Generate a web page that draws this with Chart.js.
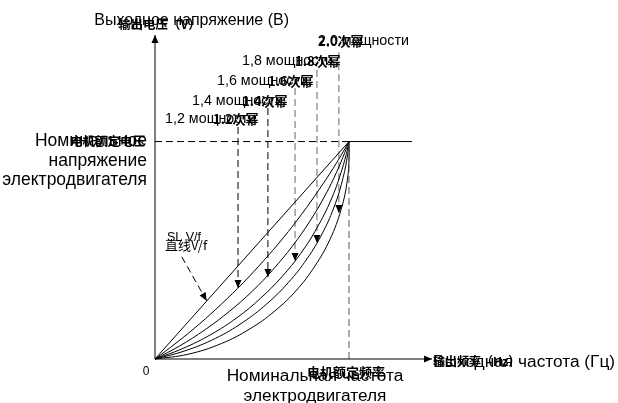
<!DOCTYPE html>
<html><head><meta charset="utf-8">
<script src="https://cdn.jsdelivr.net/npm/chart.js@4/dist/chart.umd.min.js"></script>
<style>html,body{margin:0;padding:0;background:#fff;overflow:hidden}canvas{display:block}</style>
</head><body>
<canvas id="c" width="618" height="403"></canvas>
<script>
// ---- data (x: % of rated frequency, y: % of rated voltage) ----
const curveLinear = [[0,0],[100,100]];
const curve12 = [[0,0],[10.8,7.3],[22.9,16.1],[34.4,25.4],[45.5,35.1],[56.0,45.2],[66.1,55.7],[75.6,66.6],[84.6,77.9],[91.8,87.6],[97.2,95.6],[100,100]];
const curve14 = [[0,0],[12.5,5.9],[26.0,13.6],[38.6,22.1],[50.3,31.3],[61.0,41.3],[70.8,51.9],[79.8,63.3],[87.8,75.4],[93.7,86.1],[97.9,95.1],[100,100]];
const curve16 = [[0,0],[14.0,4.7],[28.9,11.3],[42.4,19.1],[54.5,28.0],[65.4,37.8],[75.1,48.5],[83.5,60.3],[90.7,73.1],[95.5,84.6],[98.7,94.5],[100,100]];
const curve18 = [[0,0],[15.3,3.7],[31.2,9.5],[45.2,16.8],[57.7,25.4],[68.7,35.1],[78.3,46.0],[86.4,58.0],[92.9,71.3],[97.0,83.5],[99.3,94.0],[100,100]];
const curve20 = [[0,0],[17.1,2.2],[34.2,7.1],[49.0,13.9],[61.8,22.1],[73.0,31.7],[82.4,42.7],[90.2,55.0],[96.0,68.9],[99.1,81.8],[100.1,93.3],[100,100]];
const ratedFreq = 100;
const ratedVolt = 100;
const constantVoltEnd = 132.5;
const xAxisMax = 142.8;
const yAxisMax = 149;
const powerArrowX = [42.8, 58.2, 72.2, 83.5, 94.8];
const powerArrowFromY = [106.7, 115.4, 124.6, 132.9, 141.1];
const powerArrowToY = [32.6, 37.7, 45.1, 53.3, 67.1];
const slArrowFrom = [13.8, 47.0];
const slArrowTo = [26.6, 26.8];

// ---- text ----
const powerLabelsRu = ['1,2 мощности','1,4 мощности','1,6 мощности','1,8 мощности','2,0 мощности'];
const powerLabelsZh = ['1.2次幂','1.4次幂','1.6次幂','1.8次幂','2.0次幂'];
const yTitleRu = 'Выходное напряжение (В)';
const yTitleZh = '输出电压（V）';
const xTitleRu = 'Выходная частота (Гц)';
const xTitleZh = '输出频率（Hz）';
const ratedVoltRu = ['Номинальное','напряжение','электродвигателя'];
const ratedVoltZh = '电机额定电压';
const ratedFreqRu = ['Номинальная частота','электродвигателя'];
const ratedFreqZh = '电机额定频率';
const slLabelRu = 'SL V/f';
const slLabelZh = '直线V/f';
const originLabel = '0';

const RU = '"Liberation Sans", Arial, sans-serif';
const ZH = '"Noto Sans CJK SC", sans-serif';

const pts = a => a.map(p => ({x:p[0], y:p[1]}));
const line = (data, extra) => Object.assign({data: pts(data), showLine: true, borderColor: '#000', borderWidth: 1, pointRadius: 0, tension: 0, fill: false, clip: false}, extra || {});

const datasets = [
  line([[0,0],[0,yAxisMax]], {arrow: true}),
  line([[0,0],[xAxisMax,0]], {arrow: true}),
  line([[0,ratedVolt],[ratedFreq,ratedVolt]], {borderDash:[7,4]}),
  line([[ratedFreq,0],[ratedFreq,ratedVolt]], {borderDash:[7,4], borderColor:'#555'}),
  line([[ratedFreq,ratedVolt],[constantVoltEnd,ratedVolt]]),
  line(curveLinear),
  line(curve12, {tension:0.4}),
  line(curve14, {tension:0.4}),
  line(curve16, {tension:0.4}),
  line(curve18, {tension:0.4}),
  line(curve20, {tension:0.4}),
  line([slArrowFrom, slArrowTo], {borderDash:[7,4], arrow:true})
];
const arrowColors = ['#000','#000','#666','#666','#666'];
powerArrowX.forEach((x,i) => datasets.push(line([[x,powerArrowFromY[i]],[x,powerArrowToY[i]]], {borderDash:[7,4], borderColor: arrowColors[i], arrow:true})));

const arrowPlugin = {
  id: 'arrows',
  afterDatasetsDraw(chart) {
    const ctx = chart.ctx;
    chart.data.datasets.forEach((ds, i) => {
      if (!ds.arrow) return;
      const d = chart.getDatasetMeta(i).data;
      const a = d[d.length-2], b = d[d.length-1];
      const ang = Math.atan2(b.y - a.y, b.x - a.x);
      const L = 8, W = 3.5;
      ctx.save();
      ctx.fillStyle = '#000';
      ctx.translate(b.x, b.y);
      ctx.rotate(ang);
      ctx.beginPath();
      ctx.moveTo(0,0); ctx.lineTo(-L, -W); ctx.lineTo(-L, W); ctx.closePath();
      ctx.fill();
      ctx.restore();
    });
  }
};

const labelLayout = [
  [yTitleRu, 289, 25, 'right', '16px ' + RU],
  [yTitleZh, 118, 29, 'left', 'bold 12.5px ' + ZH],
  [xTitleRu, 433, 367, 'left', '17.3px ' + RU],
  [xTitleZh, 433, 366, 'left', 'bold 12px ' + ZH],
  [ratedVoltRu[0], 147, 146, 'right', '17.5px ' + RU],
  [ratedVoltRu[1], 147, 165.5, 'right', '17.5px ' + RU],
  [ratedVoltRu[2], 147, 185, 'right', '17.5px ' + RU],
  [ratedVoltZh, 145, 146, 'right', 'bold 12.5px ' + ZH],
  [ratedFreqRu[0], 315, 381, 'center', '17.3px ' + RU],
  [ratedFreqRu[1], 315, 400.5, 'center', '17.3px ' + RU],
  [ratedFreqZh, 346, 377, 'center', 'bold 13px ' + ZH],
  [slLabelRu, 167, 241, 'left', '12.5px ' + RU],
  [slLabelZh, 165, 250, 'left', '13px ' + ZH],
  [originLabel, 146, 375, 'center', '12px ' + RU]
];
const powerRuX = [165, 192, 217, 242, 318];
const powerZhX = [213, 242, 268, 295, 318];
const powerY = [123, 105, 85, 65, 45];
powerLabelsRu.forEach((t,i) => labelLayout.push([t, powerRuX[i], powerY[i], 'left', '14.3px ' + RU]));
powerLabelsZh.forEach((t,i) => labelLayout.push([t, powerZhX[i], powerY[i] + 1, 'left', 'bold 13px ' + ZH]));

const textPlugin = {
  id: 'texts',
  afterDraw(chart) {
    const ctx = chart.ctx;
    ctx.save();
    ctx.fillStyle = '#000';
    ctx.textBaseline = 'alphabetic';
    labelLayout.forEach(([t,x,y,a,f]) => { ctx.font = f; ctx.textAlign = a; ctx.fillText(t, x, y); });
    ctx.restore();
  }
};

new Chart(document.getElementById('c'), {
  type: 'scatter',
  data: { datasets },
  options: {
    responsive: false, animation: false, devicePixelRatio: 1,
    layout: { padding: { left: 155, right: 618 - 432, top: 35, bottom: 44 } },
    plugins: { legend: { display: false }, tooltip: { enabled: false } },
    scales: {
      x: { type: 'linear', min: 0, max: xAxisMax, display: false },
      y: { type: 'linear', min: 0, max: yAxisMax, display: false }
    }
  },
  plugins: [arrowPlugin, textPlugin]
});
</script>
</body></html>
